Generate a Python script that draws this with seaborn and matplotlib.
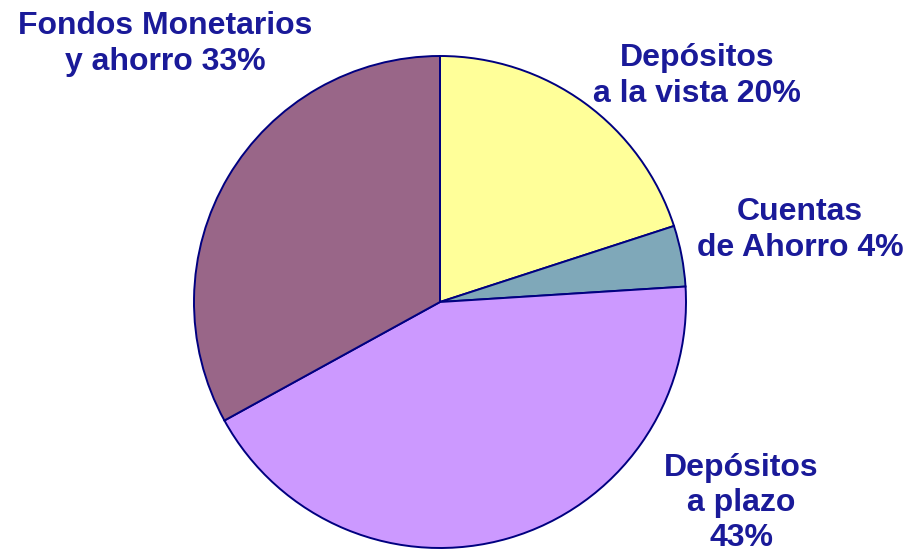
import matplotlib
matplotlib.use("Agg")
import matplotlib.pyplot as plt
import seaborn as sns

# datos del gráfico
etiquetas = ["Depósitos\na la vista 20%", "Cuentas\nde Ahorro 4%",
             "Depósitos\na plazo\n43%", "Fondos Monetarios\ny ahorro 33%"]
valores = [20, 4, 43, 33]
colores = ["#FFFF99", "#7FA8B9", "#CC99FF", "#996688"]

sns.set_theme(style="white")
plt.rcParams['font.family'] = ['Liberation Sans', 'DejaVu Sans']

fig = plt.figure(figsize=(9.24, 5.54), dpi=100)
ax = fig.add_axes([0, 0, 1, 1])

# centro del pastel (440, 302) px, radio 246 px
R = 246.0
cx, cy = 440.0, 302.0
ax.pie(valores, colors=colores, startangle=90, counterclock=False,
       radius=1.0, center=(0, 0),
       wedgeprops=dict(edgecolor="#000080", linewidth=1.4))
ax.set_xlim(-cx / R, (924 - cx) / R)
ax.set_ylim(-(554 - cy) / R, cy / R)
ax.set_axis_off()

# posiciones de las etiquetas en píxeles
pos = [(697, 76), (800, 230), (741, 503), (165, 44)]
for txt, (px, py) in zip(etiquetas, pos):
    ax.text((px - cx) / R, (cy - py) / R, txt, ha="center", va="center",
            multialignment="center", fontsize=23, fontweight="bold",
            color="#1A1A99", linespacing=1.22)

fig.savefig("out.png", dpi=100)
